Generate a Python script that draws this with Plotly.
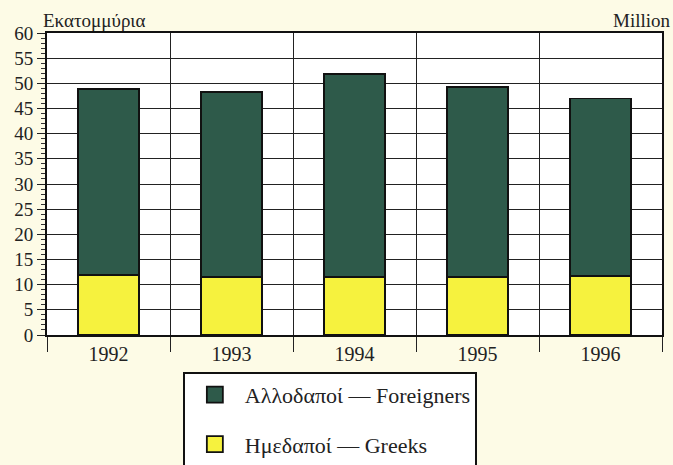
import plotly.graph_objects as go

years = ["1992", "1993", "1994", "1995", "1996"]
greeks = [11.9, 11.6, 11.6, 11.6, 11.7]
foreigners = [37.0, 36.7, 40.3, 37.7, 35.3]

y_ticks = [0, 5, 10, 15, 20, 25, 30, 35, 40, 45, 50, 55, 60]

GREEN = "#2e5a4a"
YELLOW = "#f6f23e"
BG = "#fdfbe6"
FONT = "'Times New Roman', 'Liberation Serif', Times, serif"

fig = go.Figure()
fig.add_trace(go.Bar(x=years, y=greeks, name="Ημεδαποί — Greeks", width=0.5,
                     marker=dict(color=YELLOW, line=dict(color="#111", width=1.8)),
                     showlegend=False))
fig.add_trace(go.Bar(x=years, y=foreigners, name="Αλλοδαποί — Foreigners", width=0.5,
                     marker=dict(color=GREEN, line=dict(color="#111", width=1.8)),
                     showlegend=False))

# legend entries
fig.add_trace(go.Scatter(x=[None], y=[None], mode="markers", name="Αλλοδαποί — Foreigners",
                         legendgroup="a",
                         marker=dict(symbol="square", size=21, color=GREEN,
                                     line=dict(color="#111", width=1.8))))
fig.add_trace(go.Scatter(x=[None], y=[None], mode="markers", name="Ημεδαποί — Greeks",
                         legendgroup="b",
                         marker=dict(symbol="square", size=21, color=YELLOW,
                                     line=dict(color="#111", width=1.8))))

fig.update_layout(
    width=673, height=465,
    margin=dict(l=47, r=11, t=33, b=130, autoexpand=False),
    paper_bgcolor=BG, plot_bgcolor="white",
    barmode="stack",
    font=dict(family=FONT, size=19, color="#222"),
    legend=dict(xref="container", yref="container", x=0.272, y=0.2,
                xanchor="left", yanchor="top",
                bgcolor="white", bordercolor="#111", borderwidth=1.8,
                tracegroupgap=18, itemwidth=50,
                font=dict(family=FONT, size=22, color="#222"),
                itemsizing="trace"),
    xaxis=dict(type="category", tickson="boundaries", showgrid=True,
               gridcolor="#222", gridwidth=1.2, ticks="outside", ticklen=15,
               tickcolor="#222", showline=True, linecolor="#111", linewidth=2,
               mirror=True, tickfont=dict(family=FONT, size=20)),
    yaxis=dict(range=[0, 60], tickvals=y_ticks, showgrid=True, gridcolor="#222",
               gridwidth=1.2, ticks="outside", ticklen=8, tickcolor="#222",
               showline=True, linecolor="#111", linewidth=2, mirror=True,
               zeroline=False, tickfont=dict(family=FONT, size=19),
               minor=dict(dtick=1, ticks="outside", ticklen=4, tickcolor="#333",
                          showgrid=False)),
    annotations=[
        dict(text="Εκατομμύρια", xref="paper", yref="paper", x=-0.01, y=1.0,
             xanchor="left", yanchor="bottom", showarrow=False,
             font=dict(family=FONT, size=19, color="#222")),
        dict(text="Million", xref="paper", yref="paper", x=1.018, y=1.0,
             xanchor="right", yanchor="bottom", showarrow=False,
             font=dict(family=FONT, size=19, color="#222")),
    ],
)

fig.write_html("out.html", config={"displayModeBar": False},
               post_script="document.body.style.margin='0';")
